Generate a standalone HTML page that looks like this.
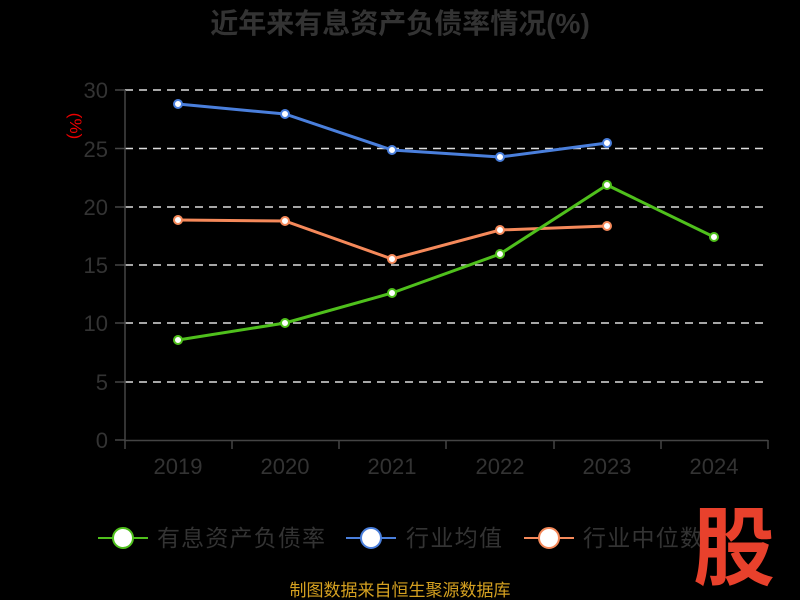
<!DOCTYPE html>
<html><head><meta charset="utf-8"><style>
html,body{margin:0;padding:0;background:#000;}
svg{display:block;font-family:"Liberation Sans","Noto Sans CJK SC",sans-serif;}
</style></head><body>
<svg width="800" height="600" viewBox="0 0 800 600">
<rect width="800" height="600" fill="#000"/>
<text x="400" y="33" text-anchor="middle" font-size="28" font-weight="bold" fill="#333">近年来有息资产负债率情况(%)</text>
<text transform="translate(70,126) rotate(90)" text-anchor="middle" font-size="17" fill="#e00">(%)</text>
<g stroke="#ddd" stroke-width="1.5" stroke-dasharray="8,6">
<line x1="125" y1="90" x2="768" y2="90"/>
<line x1="125" y1="148.5" x2="768" y2="148.5"/>
<line x1="125" y1="207" x2="768" y2="207"/>
<line x1="125" y1="265" x2="768" y2="265"/>
<line x1="125" y1="323" x2="768" y2="323"/>
<line x1="125" y1="382" x2="768" y2="382"/>
</g>
<g stroke="#444" stroke-width="1.5">
<line x1="125" y1="90" x2="125" y2="441"/>
<line x1="124" y1="440.5" x2="768" y2="440.5"/>
<line x1="115" y1="90" x2="125" y2="90"/><line x1="115" y1="148.5" x2="125" y2="148.5"/>
<line x1="115" y1="207" x2="125" y2="207"/><line x1="115" y1="265" x2="125" y2="265"/>
<line x1="115" y1="323" x2="125" y2="323"/><line x1="115" y1="382" x2="125" y2="382"/>
<line x1="115" y1="440" x2="125" y2="440"/>
<line x1="125" y1="440" x2="125" y2="449"/><line x1="232" y1="440" x2="232" y2="449"/>
<line x1="339" y1="440" x2="339" y2="449"/><line x1="446" y1="440" x2="446" y2="449"/>
<line x1="554" y1="440" x2="554" y2="449"/><line x1="661" y1="440" x2="661" y2="449"/>
<line x1="768" y1="440" x2="768" y2="449"/>
</g>
<g font-size="22" fill="#333" text-anchor="end">
<text x="108" y="98">30</text><text x="108" y="157">25</text><text x="108" y="215">20</text>
<text x="108" y="273">15</text><text x="108" y="331">10</text><text x="108" y="390">5</text><text x="108" y="448">0</text>
</g>
<g font-size="22" fill="#333" text-anchor="middle">
<text x="178" y="474">2019</text><text x="285" y="474">2020</text><text x="392" y="474">2021</text>
<text x="500" y="474">2022</text><text x="607" y="474">2023</text><text x="714" y="474">2024</text>
</g>
<polyline fill="none" stroke="#4a7fdc" stroke-width="3" points="178,104 285,114 392,150 500,157 607,143"/>
<polyline fill="none" stroke="#f5895a" stroke-width="3" points="178,220 285,221 392,259 500,230 607,226"/>
<polyline fill="none" stroke="#4fc01c" stroke-width="3" points="178,340 285,323 392,293 500,254 607,185 714,237"/>
<g fill="#fff" stroke="#4a7fdc" stroke-width="2">
<circle cx="178" cy="104" r="4"/><circle cx="285" cy="114" r="4"/><circle cx="392" cy="150" r="4"/><circle cx="500" cy="157" r="4"/><circle cx="607" cy="143" r="4"/>
</g>
<g fill="#fff" stroke="#f5895a" stroke-width="2">
<circle cx="178" cy="220" r="4"/><circle cx="285" cy="221" r="4"/><circle cx="392" cy="259" r="4"/><circle cx="500" cy="230" r="4"/><circle cx="607" cy="226" r="4"/>
</g>
<g fill="#fff" stroke="#4fc01c" stroke-width="2">
<circle cx="178" cy="340" r="4"/><circle cx="285" cy="323" r="4"/><circle cx="392" cy="293" r="4"/><circle cx="500" cy="254" r="4"/><circle cx="607" cy="185" r="4"/><circle cx="714" cy="237" r="4"/>
</g>
<g font-size="23" fill="#333">
<line x1="98" y1="538" x2="148" y2="538" stroke="#4fc01c" stroke-width="2"/>
<circle cx="123" cy="538" r="10" fill="#fff" stroke="#4fc01c" stroke-width="2"/>
<text x="157" y="546" textLength="168">有息资产负债率</text>
<line x1="346" y1="538" x2="396" y2="538" stroke="#4a7fdc" stroke-width="2"/>
<circle cx="371" cy="538" r="10" fill="#fff" stroke="#4a7fdc" stroke-width="2"/>
<text x="406" y="546" textLength="96">行业均值</text>
<line x1="524" y1="538" x2="574" y2="538" stroke="#f5895a" stroke-width="2"/>
<circle cx="549" cy="538" r="10" fill="#fff" stroke="#f5895a" stroke-width="2"/>
<text x="583" y="546" textLength="120">行业中位数</text>
</g>
<text x="0" y="0" text-anchor="middle" font-size="86" font-weight="bold" fill="#e8412c" transform="translate(734,578) scale(0.95,1)">股</text>
<text x="400" y="596" text-anchor="middle" font-size="17" fill="#d4a020">制图数据来自恒生聚源数据库</text>
</svg>
</body></html>
